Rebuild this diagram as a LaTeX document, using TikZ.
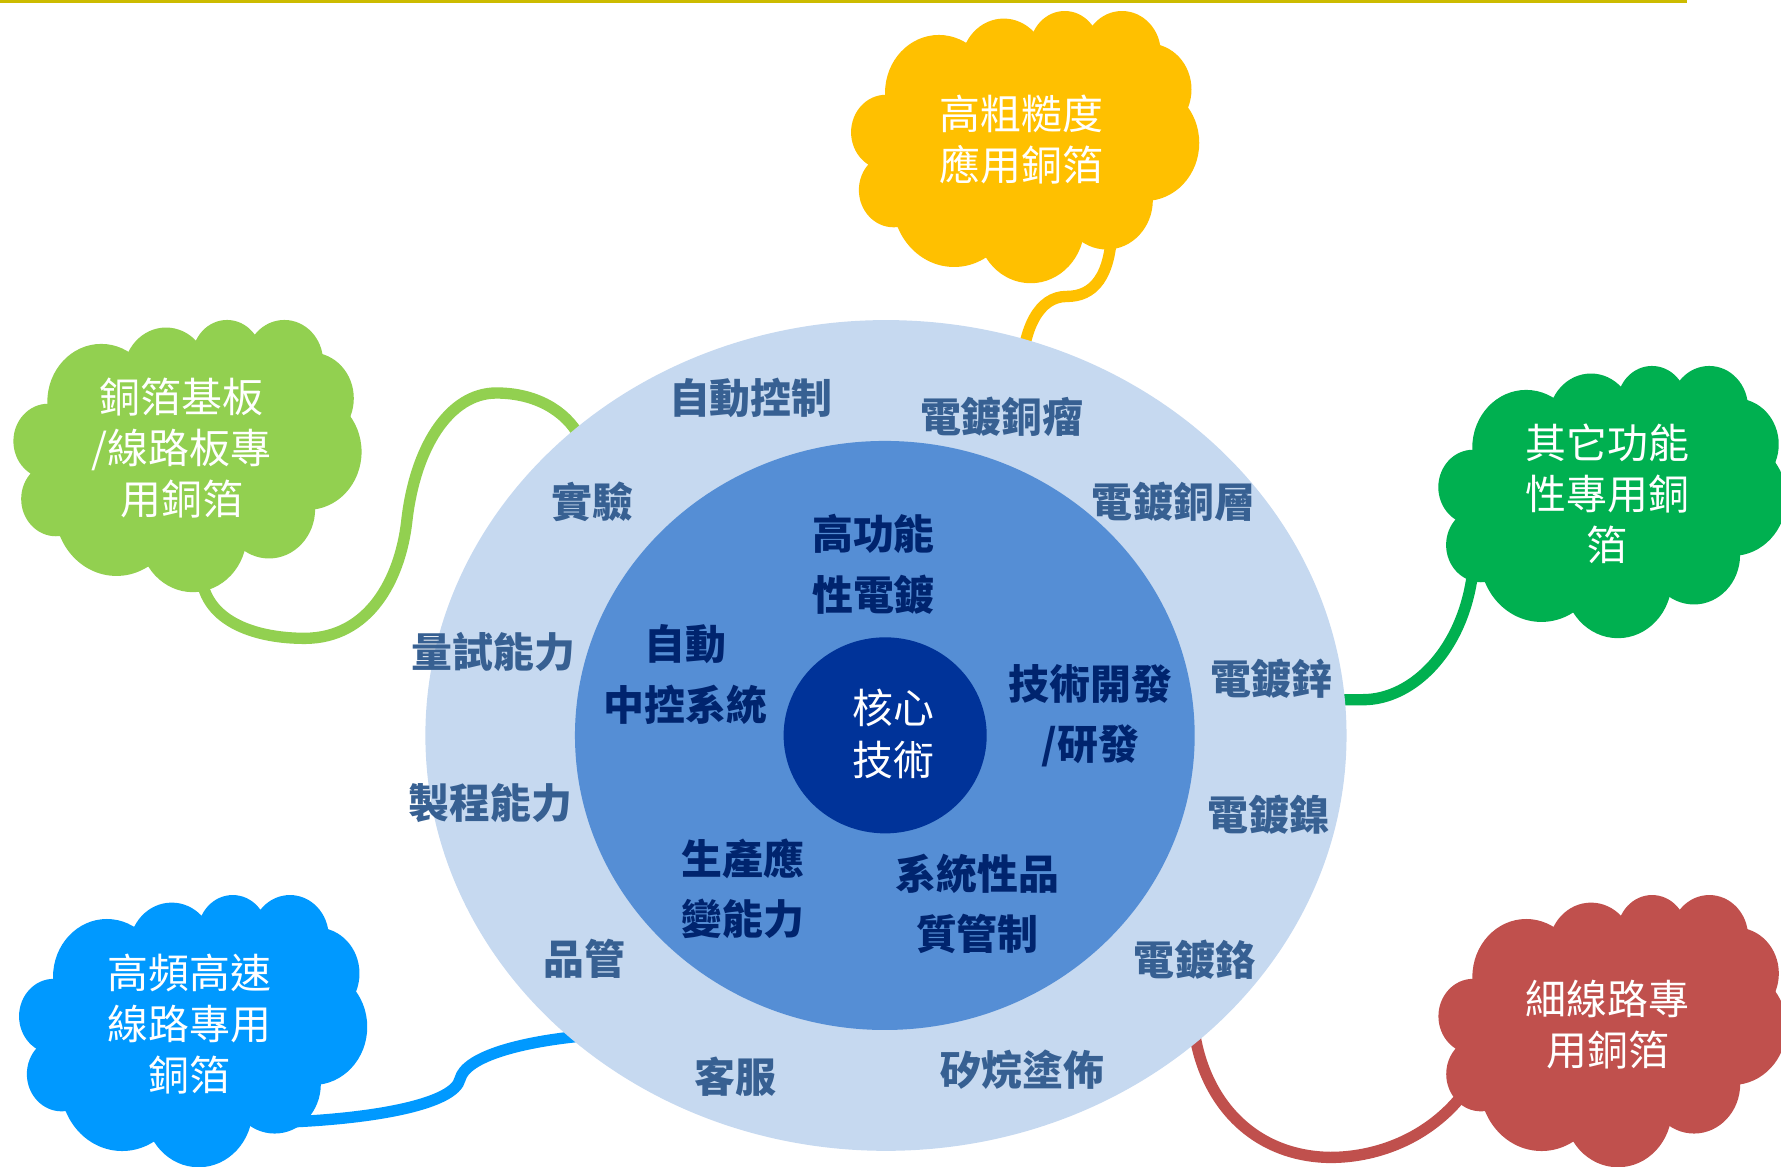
\documentclass[tikz,border=0pt]{standalone}
\usepackage{fontspec}
\usetikzlibrary{shapes.geometric}
\newfontfamily\cjk{Noto Sans CJK TC}
\definecolor{ringA}{RGB}{198,217,240}
\definecolor{ringB}{RGB}{85,142,213}
\definecolor{ringC}{RGB}{0,51,153}
\definecolor{lblA}{RGB}{55,96,146}
\definecolor{lblB}{RGB}{0,36,110}
\definecolor{cYellow}{RGB}{255,192,0}
\definecolor{cLime}{RGB}{146,208,80}
\definecolor{cGreen}{RGB}{0,176,80}
\definecolor{cBlue}{RGB}{0,153,255}
\definecolor{cRed}{RGB}{192,80,77}
\definecolor{topline}{RGB}{204,187,0}

\newcommand\cloudat[3]{%
\begin{scope}[shift={(#1,#2)},xscale=3.035,yscale=2.396]
 \fill[#3] (24.52,30.40) ellipse [x radius=15.63, y radius=21.27];
 \fill[#3] (43.32,19.93) ellipse [x radius=12.34, y radius=16.82];
 \fill[#3] (61.02,14.09) ellipse [x radius=10.10, y radius=13.76];
 \fill[#3] (77.63,15.60) ellipse [x radius=11.24, y radius=15.27];
 \fill[#3] (85.45,29.14) ellipse [x radius=12.34, y radius=16.84];
 \fill[#3] (84.36,48.78) ellipse [x radius=15.68, y radius=21.34];
 \fill[#3] (73.19,69.76) ellipse [x radius=13.39, y radius=18.21];
 \fill[#3] (51.14,79.03) ellipse [x radius=15.63, y radius=21.33];
 \fill[#3] (28.95,69.98) ellipse [x radius=17.87, y radius=24.41];
 \fill[#3] (11.39,66.11) ellipse [x radius=10.09, y radius=13.70];
 \fill[#3] (9.10,44.88) ellipse [x radius=10.06, y radius=13.76];
 \fill[#3] (9.03,33.26) -- (32.42,12.04) -- (51.98,7.95) -- (69.05,5.73) -- (88.70,12.90) -- (96.80,35.78) -- (86.58,69.91) -- (66.10,85.21) -- (38.15,90.90) -- (12.56,79.72) -- (4.02,56.75) -- cycle;
\end{scope}}

\tikzset{
 outerlbl/.style={font=\cjk\bfseries\fontsize{36}{45}\selectfont, text=lblA, inner sep=0pt, align=center},
 innerlbl/.style={font=\cjk\bfseries\fontsize{36}{53.5}\selectfont, text=lblB, inner sep=0pt, align=center},
 cloudlbl/.style={font=\cjk\fontsize{36}{45}\selectfont, text=white, inner sep=0pt, align=center},
 corelbl/.style={font=\cjk\fontsize{36}{45.5}\selectfont, text=white, inner sep=0pt, align=center},
 tail/.style={line width=10pt},
 disc/.style={ellipse, inner sep=0pt, draw=none},
}

\begin{document}
\begin{tikzpicture}[x=1pt,y=-1pt]
\useasboundingbox (0,0) rectangle (1568,1027);
\clip (0,0) rectangle (1568,1027);

% top rule
\fill[topline] (0,0) rectangle (1485.5,2.6);

% tails (under everything)
\coordinate (yA) at (979,195);   \coordinate (yB) at (899,330);
\coordinate (lA) at (177,505);   \coordinate (lB) at (522,404);
\coordinate (gA) at (1165,616);  \coordinate (gB) at (1297,500);
\coordinate (bA) at (250,988);   \coordinate (bB) at (525,911);
\coordinate (rA) at (1050,895);  \coordinate (rB) at (1292,958);

\draw[tail,cYellow] (yA) .. controls (979,245) and (962,261) .. (939,261) .. controls (915,261) and (901,288) .. (yB);
\draw[tail,cLime] (lA) .. controls (180,550) and (230,562) .. (268,562) .. controls (325,562) and (352,510) .. (358,460) .. controls (365,395) and (395,346) .. (437,346) .. controls (472,346) and (498,362) .. (510,384) -- (lB);
\draw[tail,cGreen] (gA) -- (1200,616) .. controls (1245,616) and (1290,570) .. (gB);
\draw[tail,cBlue] (bA) .. controls (330,985) and (400,972) .. (405,950) .. controls (410,930) and (460,916) .. (bB);
\draw[tail,cRed] (rA) .. controls (1055,965) and (1100,1018) .. (1171,1019) .. controls (1215,1019) and (1262,1000) .. (rB);

% rings
\node[disc, fill=ringA, minimum width=811pt, minimum height=731.4pt] (ring) at (780,647.5) {};
\node[disc, fill=ringB, minimum width=545.6pt, minimum height=518.6pt] (mid) at (779,647.5) {};
\node[disc, fill=ringC, minimum width=178.8pt, minimum height=172.6pt] (core) at (779.3,647.4) {};

% clouds
\cloudat{752.2}{8.9}{cYellow}
\cloudat{14.7}{280.9}{cLime}
\cloudat{1269.2}{321.4}{cGreen}
\cloudat{19.7}{787.2}{cBlue}
\cloudat{1269.3}{787.2}{cRed}

\node[cloudlbl] (cy) at (899,122.7) {高粗糙度\\應用銅箔};
\node[cloudlbl] (cl) at (160,394.5) {銅箔基板\\/線路板專\\用銅箔};
\node[cloudlbl] (cg) at (1415,435) {其它功能\\性專用銅\\箔};
\node[cloudlbl] (cb) at (166.5,901.5) {高頻高速\\線路專用\\銅箔};
\node[cloudlbl] (cr) at (1415.4,901.7) {細線路專\\用銅箔};

% core
\node[corelbl] (ct) at (786.3,646.3) {核心\\技術};

% inner labels
\node[innerlbl] (i1) at (769,497) {高功能\\性電鍍};
\node[innerlbl] (i2) at (603.6,594) {自動\\中控系統};
\node[innerlbl] (i3) at (960,630.2) {技術開發\\/研發};
\node[innerlbl] (i4) at (654,782.5) {生產應\\變能力};
\node[innerlbl] (i5) at (860.5,795.8) {系統性品\\質管制};

% outer labels
\node[outerlbl] (o1) at (661,350.7) {自動控制};
\node[outerlbl] (o2) at (882,367) {電鍍銅瘤};
\node[outerlbl] (o3) at (521.5,441.7) {實驗};
\node[outerlbl] (o4) at (1033,441.7) {電鍍銅層};
\node[outerlbl] (o5) at (434.3,573.7) {量試能力};
\node[outerlbl] (o6) at (1119.3,597.2) {電鍍鋅};
\node[outerlbl] (o7) at (431.8,707.3) {製程能力};
\node[outerlbl] (o8) at (1117,717.6) {電鍍鎳};
\node[outerlbl] (o9) at (514.4,843.8) {品管};
\node[outerlbl] (o10) at (1052,845) {電鍍鉻};
\node[outerlbl] (o11) at (647.8,948) {客服};
\node[outerlbl] (o12) at (900,942) {矽烷塗佈};
\end{tikzpicture}
\end{document}
